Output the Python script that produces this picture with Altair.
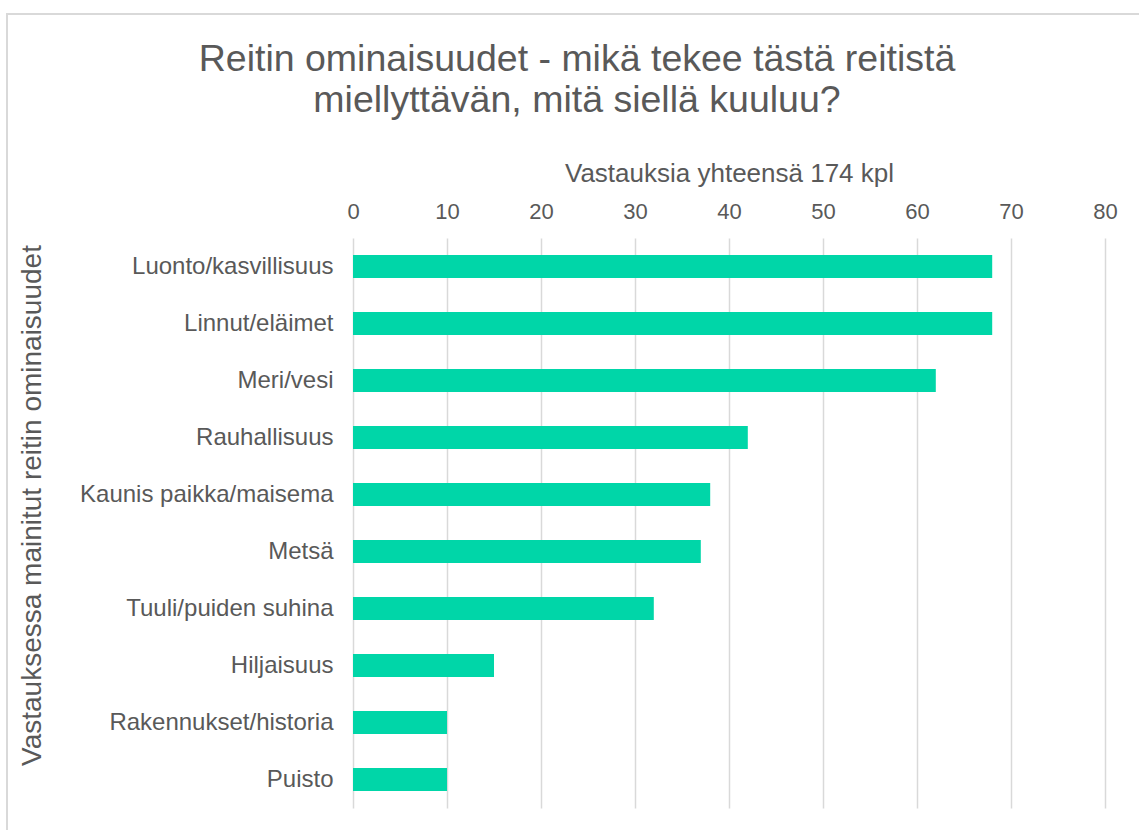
import altair as alt
import pandas as pd

categories = ["Luonto/kasvillisuus", "Linnut/eläimet", "Meri/vesi", "Rauhallisuus",
              "Kaunis paikka/maisema", "Metsä", "Tuuli/puiden suhina", "Hiljaisuus",
              "Rakennukset/historia", "Puisto"]
values = [68, 68, 62, 42, 38, 37, 32, 15, 10, 10]
x_ticks = [0, 10, 20, 30, 40, 50, 60, 70, 80]

df = pd.DataFrame({"cat": categories, "val": values})

FONT = "Liberation Sans"
GREY = "#595959"
W, H = 752, 570

bars = alt.Chart(df).mark_bar(color="#00D6A8").encode(
    x=alt.X("val:Q",
            scale=alt.Scale(domain=[0, 80], nice=False),
            axis=alt.Axis(orient="top", values=x_ticks, title="Vastauksia yhteensä 174 kpl",
                          titleFontSize=26, titleFont=FONT, titleColor=GREY, titleFontWeight="normal",
                          titleX=W / 2, titleY=-65, titleBaseline="middle", titleAlign="center",
                          labelFontSize=22, labelFont=FONT, labelColor=GREY, labelPadding=15,
                          labelFlush=False,
                          ticks=False, tickSize=0, domain=False, grid=True,
                          gridColor="#d9d9d9", gridWidth=1.5)),
    y=alt.Y("cat:N", sort=categories,
            scale=alt.Scale(paddingInner=0.6, paddingOuter=0.3),
            axis=alt.Axis(title="Vastauksessa mainitut reitin ominaisuudet",
                          titleFontSize=28, titleFont=FONT, titleColor=GREY, titleFontWeight="normal",
                          titleX=-321, titleY=H / 2 - 18, titleAngle=-90,
                          titleBaseline="middle", titleAlign="center",
                          labelFontSize=24, labelFont=FONT, labelColor=GREY, labelPadding=20,
                          labelLimit=0,
                          ticks=False, tickSize=0, domain=False, grid=False)),
)

border = alt.Chart(df).mark_rect(fill=None, stroke="#d9d9d9", strokeWidth=2, clip=False).encode(
    x=alt.value(-346), x2=alt.value(W + 60), y=alt.value(-224), y2=alt.value(H + 60)
)

chart = alt.layer(border, bars).properties(
    width=W, height=H,
    autosize=alt.AutoSizeParams(type="none"),
    padding={"left": 353, "top": 238, "right": 34, "bottom": 22},
    title=alt.TitleParams(
        text=["Reitin ominaisuudet - mikä tekee tästä reitistä", "miellyttävän, mitä siellä kuuluu?"],
        fontSize=37.5, font=FONT, color=GREY, fontWeight="normal",
        anchor="middle", frame="group", dx=-152, lineHeight=41, offset=-106,
    ),
).configure_view(stroke=None)

chart.save("out.html", embed_options={"renderer": "svg", "actions": False})
